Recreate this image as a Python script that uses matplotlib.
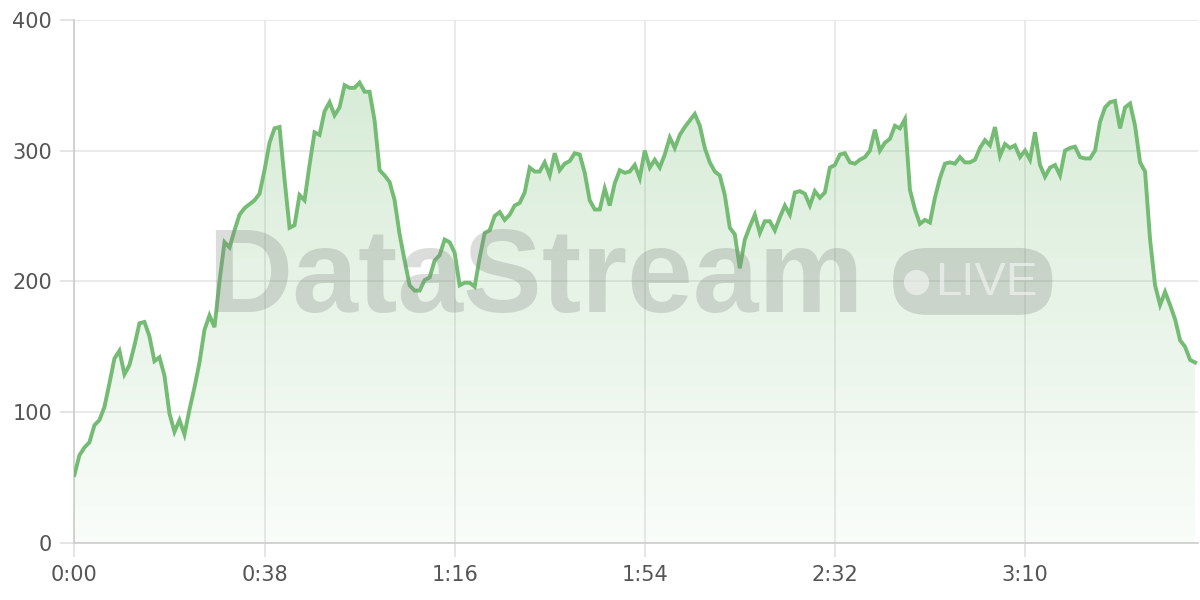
import numpy as np
import matplotlib.pyplot as plt
from matplotlib.colors import LinearSegmentedColormap
from matplotlib.patches import FancyBboxPatch, Polygon

# one sample per second, 0:00 .. 3:44
values = [
    52, 67, 73, 77, 90, 94, 104, 122, 141, 147,
    129, 136, 151, 168, 169, 158, 139, 142, 128, 99,
    85, 94, 83, 102, 119, 138, 163, 174, 165, 200,
    230, 226, 239, 251, 256, 259, 262, 267, 285, 306,
    317, 318, 278, 241, 243, 266, 262, 289, 314, 312,
    330, 337, 327, 333, 350, 348, 348, 352, 345, 345,
    323, 285, 281, 276, 262, 236, 216, 197, 193, 193,
    201, 203, 216, 220, 232, 230, 222, 197, 199, 199,
    196, 218, 237, 239, 250, 253, 247, 251, 258, 260,
    268, 287, 284, 284, 291, 281, 298, 285, 290, 292,
    298, 297, 283, 262, 255, 255, 271, 258, 275, 285,
    283, 284, 289, 279, 300, 287, 293, 287, 297, 310,
    302, 312, 318, 323, 328, 319, 302, 291, 284, 281,
    266, 241, 236, 210, 232, 242, 251, 237, 246, 246,
    239, 249, 258, 251, 268, 269, 267, 258, 269, 264,
    268, 287, 289, 297, 298, 291, 290, 293, 295, 300,
    316, 300, 306, 309, 319, 317, 324, 270, 255, 244,
    247, 245, 264, 279, 290, 291, 290, 295, 291, 291,
    293, 302, 308, 304, 318, 296, 305, 302, 304, 295,
    300, 293, 314, 289, 280, 287, 289, 281, 300, 302,
    303, 295, 294, 294, 300, 322, 333, 337, 338, 317,
    333, 336, 319, 291, 284, 232, 197, 182, 192, 182,
    171, 155, 150, 140, 138,
]
seconds = np.arange(len(values))
tick_secs = [0, 38, 76, 114, 152, 190]
tick_labels = ['0:00', '0:38', '1:16', '1:54', '2:32', '3:10']
y_ticks = [0, 100, 200, 300, 400]

line_color = '#74bb74'

fig = plt.figure(figsize=(12, 6), dpi=100)
ax = fig.add_axes([0.062, 0.095, 0.936, 0.872])
ax.set_xlim(0, len(values) - 0.5)
ax.set_ylim(0, 400)

# gradient fill under the line
top = max(values)
cmap = LinearSegmentedColormap.from_list(
    'g', [(0.45, 0.73, 0.45, 0.04), (0.45, 0.73, 0.45, 0.28)])
grad = np.linspace(0, 1, 256).reshape(-1, 1)
img = ax.imshow(grad, cmap=cmap, origin='lower', aspect='auto',
                extent=[0, len(values) - 1, 0, top], zorder=1)
poly = Polygon(np.column_stack([np.r_[seconds, seconds[-1], 0],
                                np.r_[values, 0, 0]]),
               closed=True, facecolor='none', edgecolor='none')
ax.add_patch(poly)
img.set_clip_path(poly)

ax.plot(seconds, values, color=line_color, lw=2.8, zorder=3,
        solid_joinstyle='miter')

# watermark
wm = '#7f857f'
ax.text(0.1184, 0.50, 'DataStream', transform=ax.transAxes,
        fontsize=85, fontweight='bold', color=wm, alpha=0.28,
        ha='left', va='center', zorder=4, family='Liberation Sans')
box = FancyBboxPatch((0.729, 0.436), 0.1416, 0.128, transform=ax.transAxes,
                     boxstyle='round,pad=0,rounding_size=0.03',
                     facecolor=wm, alpha=0.28, edgecolor='none',
                     zorder=4, mutation_aspect=2.0)
ax.add_patch(box)
ax.scatter([0.749], [0.499], transform=ax.transAxes, s=330,
           color='white', alpha=0.5, zorder=5, linewidths=0)
ax.text(0.812, 0.497, 'LIVE', transform=ax.transAxes, fontsize=34,
        color='white', alpha=0.5, ha='center', va='center', zorder=5,
        family='Liberation Sans')

ax.set_xticks(tick_secs)
ax.set_xticklabels(tick_labels)
ax.set_yticks(y_ticks)
ax.grid(True, color='#e6e6e6', lw=1.2, zorder=0)
ax.set_axisbelow(True)
for side in ['top', 'right']:
    ax.spines[side].set_visible(False)
for side in ['left', 'bottom']:
    ax.spines[side].set_color('#cccccc')
    ax.spines[side].set_linewidth(1.2)
ax.tick_params(colors='#e0e0e0', labelcolor='#555555', labelsize=15,
               length=10, width=1.2, pad=6)

fig.savefig('out.png', dpi=100)
